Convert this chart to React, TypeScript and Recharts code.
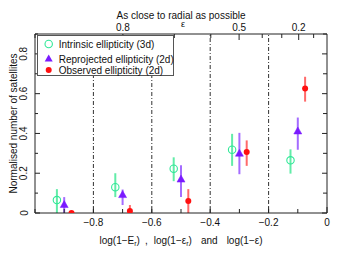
import React from 'react';
import { ScatterChart, Scatter, XAxis, YAxis, ErrorBar, ReferenceLine, Legend } from 'recharts';

// ---- data ----
const seriesNames = ['Intrinsic ellipticity (3d)', 'Reprojected ellipticity (2d)', 'Observed ellipticity (2d)'];

const intrinsicX = [-0.925, -0.725, -0.525, -0.325, -0.125];
const intrinsicY = [0.065, 0.13, 0.223, 0.318, 0.265];
const intrinsicLo = [0.0, 0.08, 0.16, 0.237, 0.198];
const intrinsicHi = [0.12, 0.2, 0.28, 0.398, 0.32];

const reprojX = [-0.9, -0.7, -0.5, -0.3, -0.1];
const reprojY = [0.04, 0.09, 0.168, 0.298, 0.41];
const reprojLo = [0.0, 0.04, 0.08, 0.195, 0.318];
const reprojHi = [0.08, 0.118, 0.24, 0.403, 0.48];

const obsX = [-0.875, -0.675, -0.475, -0.275, -0.075];
const obsY = [0.0, 0.01, 0.06, 0.307, 0.626];
const obsLo = [0.0, 0.0, 0.0, 0.237, 0.56];
const obsHi = [0.0, 0.04, 0.12, 0.365, 0.685];

const binEdges = [-0.8, -0.6, -0.4, -0.2];

const xTicks = [-1, -0.9, -0.8, -0.7, -0.6, -0.5, -0.4, -0.3, -0.2, -0.1, 0];
const xLabelled = [-0.8, -0.6, -0.4, -0.2, 0];
const yTicks = [0, 0.1, 0.2, 0.3, 0.4, 0.5, 0.6, 0.7, 0.8, 0.9];
const yLabelled = [0, 0.2, 0.4, 0.6, 0.8];
const epsTicks = [0.9, 0.8, 0.7, 0.6, 0.5, 0.4, 0.3, 0.2, 0.1];
const epsLabelled = [0.8, 0.5, 0.2];

// ---- styles ----
const FONT = "'Liberation Sans', Arial, Helvetica, sans-serif";
const AXIS = '#222';
const GREEN = '#30e898';
const GREEN_ERR = '#62eca8';
const PURPLE = '#7a1aff';
const PURPLE_ERR = '#a46cff';
const RED = '#ff1010';
const RED_ERR = '#ff6a6a';
const TM = 2;

const build = (xs: number[], ys: number[], lo: number[], hi: number[]) =>
  xs.map((x, i) => ({ x, y: ys[i], err: [ys[i] - lo[i], hi[i] - ys[i]] }));

const intrinsicData = build(intrinsicX, intrinsicY, intrinsicLo, intrinsicHi);
const reprojData = build(reprojX, reprojY, reprojLo, reprojHi);
const obsData = build(obsX, obsY, obsLo, obsHi);

const near = (arr: number[], v: number) => arr.some((a) => Math.abs(a - v) < 1e-6);
const fmtX = (v: number) => (Math.abs(v) < 1e-9 ? '0' : (v < 0 ? '\u2212' : '') + Math.abs(v).toFixed(1));
const fmtY = (v: number) => (Math.abs(v) < 1e-9 ? '0' : v.toFixed(1));

const epsToX = (e: number) => Math.log10(1 - e);
const topTickVals = epsTicks.map(epsToX);
// anchor points so the top / right axes own a scale (drawn as nothing)
const frameAnchor = [
  { x: -1, y: 0 },
  { x: 0, y: 0.9 },
];

const BottomTick = (props: any) => {
  const { x, y, payload } = props;
  const v = payload.value;
  const ay = y - TM;
  const major = near(xLabelled, v);
  return (
    <g>
      <line x1={x} x2={x} y1={ay} y2={ay - (major ? 6 : 4)} stroke={AXIS} strokeWidth={1} />
      {major && (
        <text x={x} y={ay + 12.5} textAnchor="middle" fontSize={10} fontFamily={FONT} fill="#111">
          {fmtX(v)}
        </text>
      )}
    </g>
  );
};

const TopTick = (props: any) => {
  const { x, y, payload } = props;
  const v = payload.value;
  const ay = y + TM;
  const e = 1 - Math.pow(10, v);
  const major = near(epsLabelled, e);
  return (
    <g>
      <line x1={x} x2={x} y1={ay} y2={ay + (major ? 6 : 4)} stroke={AXIS} strokeWidth={1} />
      {major && (
        <text x={x} y={ay - 3} textAnchor="middle" fontSize={10} fontFamily={FONT} fill="#111">
          {e.toFixed(1)}
        </text>
      )}
    </g>
  );
};

const LeftTick = (props: any) => {
  const { x, y, payload } = props;
  const v = payload.value;
  const ax = x + TM;
  const major = near(yLabelled, v);
  const tx = ax - 7.5;
  return (
    <g>
      <line x1={ax} x2={ax + (major ? 5 : 3)} y1={y} y2={y} stroke={AXIS} strokeWidth={1} />
      {major && (
        <text
          x={tx}
          y={y}
          transform={`rotate(-90 ${tx} ${y})`}
          textAnchor="middle"
          fontSize={10}
          fontFamily={FONT}
          fill="#111"
        >
          {fmtY(v)}
        </text>
      )}
    </g>
  );
};

const RightTick = (props: any) => {
  const { x, y, payload } = props;
  const v = payload.value;
  const ax = x - TM;
  const major = near(yLabelled, v);
  return <line x1={ax} x2={ax - (major ? 5 : 4)} y1={y} y2={y} stroke={AXIS} strokeWidth={1} />;
};

const BottomLabel = (props: any) => {
  const vb = props.viewBox || {};
  const cx = vb.x + vb.width / 2;
  const by = vb.y + 31;
  return (
    <text x={cx} y={by} textAnchor="middle" fontSize={10} fontFamily={FONT} fill="#111">
      <tspan>log(1{'\u2212'}E</tspan>
      <tspan dy={2} fontSize={7}>r</tspan>
      <tspan dy={-2}>)</tspan>
      <tspan dx={5}>,</tspan>
      <tspan dx={6}>log(1{'\u2212'}{'\u03b5'}</tspan>
      <tspan dy={2} fontSize={7}>r</tspan>
      <tspan dy={-2}>)</tspan>
      <tspan dx={9}>and</tspan>
      <tspan dx={9}>log(1{'\u2212'}{'\u03b5'})</tspan>
    </text>
  );
};

const TopLabel = (props: any) => {
  const vb = props.viewBox || {};
  const cx = vb.x + vb.width / 2;
  return (
    <g>
      <text x={cx} y={vb.y + 4.5} textAnchor="middle" fontSize={10} fontFamily={FONT} fill="#111">
        As close to radial as possible
      </text>
      <text x={cx + 2} y={vb.y + 13} textAnchor="middle" fontSize={9} fontFamily={FONT} fill="#111">
        {'\u03b5'}
      </text>
    </g>
  );
};

const LeftLabel = (props: any) => {
  const vb = props.viewBox || {};
  const cx = vb.x - 2;
  const cy = vb.y + vb.height / 2;
  return (
    <text
      x={cx}
      y={cy}
      transform={`rotate(-90 ${cx} ${cy})`}
      textAnchor="middle"
      dominantBaseline="central"
      fontSize={10}
      fontFamily={FONT}
      fill="#111"
    >
      Normalised number of satellites
    </text>
  );
};

const OpenCircle = (props: any) => {
  const { cx, cy } = props;
  if (cx == null || cy == null) return null;
  return <circle cx={cx} cy={cy} r={3.7} fill="none" stroke={GREEN} strokeWidth={1.1} />;
};
const Triangle = (props: any) => {
  const { cx, cy } = props;
  if (cx == null || cy == null) return null;
  return (
    <polygon
      points={`${cx},${cy - 4.5} ${cx - 4},${cy + 2.5} ${cx + 4},${cy + 2.5}`}
      fill={PURPLE}
      stroke={PURPLE}
      strokeWidth={0.5}
    />
  );
};
const Dot = (props: any) => {
  const { cx, cy } = props;
  if (cx == null || cy == null) return null;
  return <circle cx={cx} cy={cy} r={3} fill={RED} />;
};
const Nothing = () => <g />;

const LegendBox = () => (
  <svg width={137} height={41} style={{ display: 'block' }}>
    <rect x={0.5} y={0.5} width={136} height={40} fill="#fff" stroke="#555" strokeWidth={1} />
    <circle cx={11.7} cy={9} r={3.7} fill="none" stroke={GREEN} strokeWidth={1.1} />
    <text x={21.7} y={12.5} fontSize={10} fontFamily={FONT} fill="#111">{seriesNames[0]}</text>
    <polygon points={`11.7,19.5 7.7,26.5 15.7,26.5`} fill={PURPLE} />
    <text x={21.7} y={27.5} fontSize={10} fontFamily={FONT} fill="#111">{seriesNames[1]}</text>
    <circle cx={11.7} cy={35} r={3} fill={RED} />
    <text x={21.7} y={38.5} fontSize={10} fontFamily={FONT} fill="#111">{seriesNames[2]}</text>
  </svg>
);

export default function App() {
  return (
    <div style={{ position: 'absolute', left: 0, top: 0, width: 352, height: 272, background: '#fff' }}>
      <ScatterChart width={352} height={272} margin={{ top: 14, right: 20, bottom: 39, left: 15 }}>
        <XAxis
          dataKey="x"
          type="number"
          domain={[-1, 0]}
          ticks={xTicks}
          interval={0}
          tickSize={0}
          tickMargin={TM}
          tickLine={false}
          tick={<BottomTick />}
          axisLine={{ stroke: AXIS }}
          height={20}
          allowDataOverflow
          label={<BottomLabel />}
        />
        <XAxis
          xAxisId="top"
          dataKey="x"
          orientation="top"
          type="number"
          domain={[-1, 0]}
          ticks={topTickVals}
          interval={0}
          tickSize={0}
          tickMargin={TM}
          tickLine={false}
          tick={<TopTick />}
          axisLine={{ stroke: AXIS }}
          height={20}
          allowDataOverflow
          label={<TopLabel />}
        />
        <YAxis
          dataKey="y"
          type="number"
          domain={[0, 0.9]}
          ticks={yTicks}
          interval={0}
          tickSize={0}
          tickMargin={TM}
          tickLine={false}
          tick={<LeftTick />}
          axisLine={{ stroke: AXIS }}
          width={20}
          allowDataOverflow
          label={<LeftLabel />}
        />
        <YAxis
          yAxisId="right"
          dataKey="y"
          orientation="right"
          type="number"
          domain={[0, 0.9]}
          ticks={yTicks}
          interval={0}
          tickSize={0}
          tickMargin={TM}
          tickLine={false}
          tick={<RightTick />}
          axisLine={{ stroke: AXIS }}
          width={5}
          allowDataOverflow
        />
        {binEdges.map((b) => (
          <ReferenceLine key={b} x={b} stroke="#333" strokeWidth={1} strokeDasharray="4 2 1 2" />
        ))}
        <Scatter
          xAxisId="top"
          yAxisId="right"
          data={frameAnchor}
          shape={<Nothing />}
          legendType="none"
          isAnimationActive={false}
        />
        <Scatter name={seriesNames[0]} data={intrinsicData} shape={<OpenCircle />} isAnimationActive={false}>
          <ErrorBar dataKey="err" direction="y" width={0} stroke={GREEN_ERR} strokeWidth={2} isAnimationActive={false} />
        </Scatter>
        <Scatter name={seriesNames[1]} data={reprojData} shape={<Triangle />} isAnimationActive={false}>
          <ErrorBar dataKey="err" direction="y" width={0} stroke={PURPLE_ERR} strokeWidth={2} isAnimationActive={false} />
        </Scatter>
        <Scatter name={seriesNames[2]} data={obsData} shape={<Dot />} isAnimationActive={false}>
          <ErrorBar dataKey="err" direction="y" width={0} stroke={RED_ERR} strokeWidth={2} isAnimationActive={false} />
        </Scatter>
        <Legend
          layout="horizontal"
          verticalAlign="middle"
          align="center"
          content={() => <LegendBox />}
          wrapperStyle={{ left: 37, top: 35, width: 137, height: 41 }}
        />
      </ScatterChart>
    </div>
  );
}
